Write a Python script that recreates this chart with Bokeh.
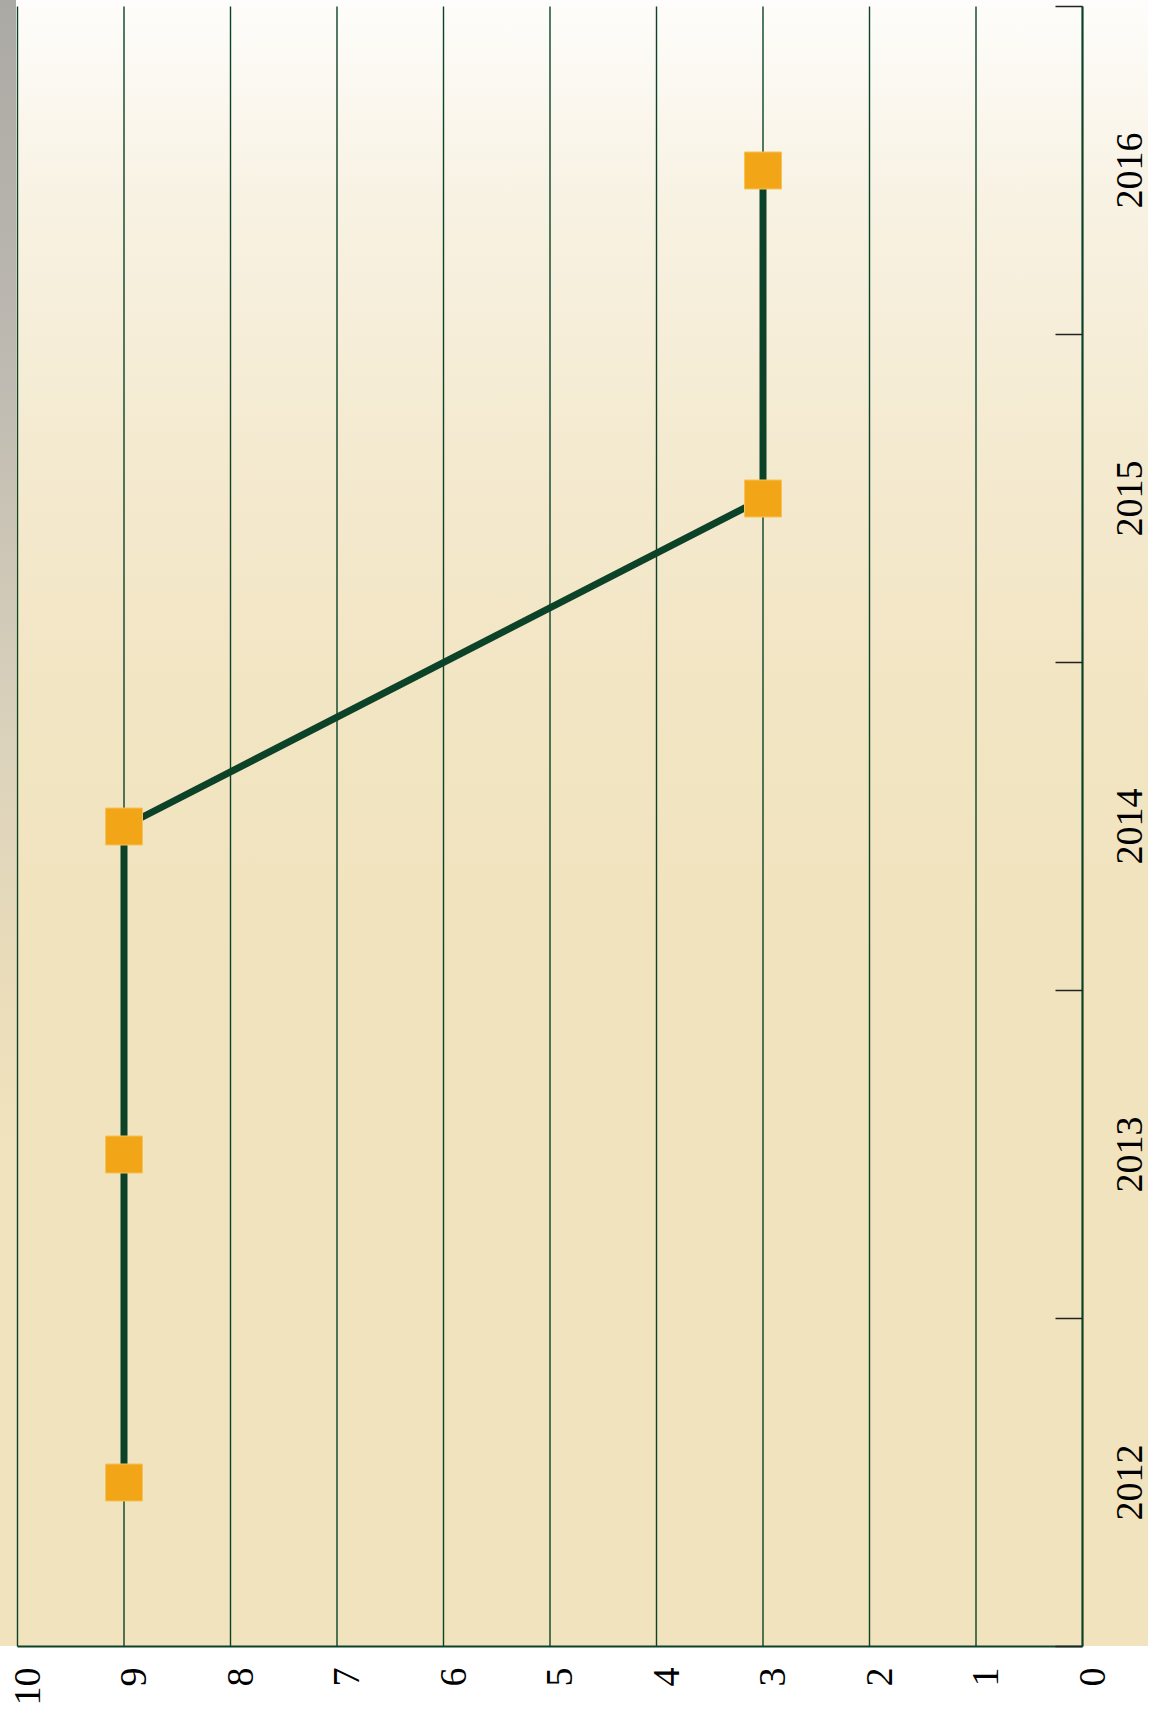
import math
from bokeh.plotting import figure
from bokeh.models import Range1d, LinearAxis, FixedTicker, LabelSet, ColumnDataSource
from bokeh.embed import file_html
from bokeh.resources import INLINE

# data
years = [2012, 2013, 2014, 2015, 2016]
year_labels = ["2012", "2013", "2014", "2015", "2016"]
values = [9, 9, 9, 3, 3]
value_ticks = [0, 1, 2, 3, 4, 5, 6, 7, 8, 9, 10]
value_labels = ["0", "1", "2", "3", "4", "5", "6", "7", "8", "9", "10"]
year_bounds = [2011.5, 2012.5, 2013.5, 2014.5, 2015.5, 2016.5]

GREEN = "#0B4228"
ORANGE = "#F2A516"
FONT = "Lato"
FSIZE = "38px"

# layout (pixels)
W, H = 1148, 1710
FL, FR, FT, FB = 17, 1082, 6, 1646           # plot-area edges
VMIN, VMAX = min(value_ticks), max(value_ticks)
YMIN, YMAX = year_bounds[0], year_bounds[-1]
sx = (FR - FL) / (VMAX - VMIN)
sy = (FB - FT) / (YMAX - YMIN)

p = figure(width=W, height=H, output_backend="svg", toolbar_location=None,
           x_range=Range1d(VMAX + FL / sx, VMIN - (W - FR) / sx),
           y_range=Range1d(YMIN - (H - FB) / sy, YMAX + FT / sy),
           x_axis_type=None, y_axis_type=None,
           min_border_left=0, min_border_right=0, min_border_top=0, min_border_bottom=0)

p.background_fill_alpha = 0
p.border_fill_alpha = 0
p.outline_line_color = None
p.styles = {
    "background": (
        f"linear-gradient(to bottom, #ABA9A4 0px, #BDB9B1 350px, #DCD3BC 750px, #EBDDBA 1000px, rgba(241,227,189,0) 1150px) 0px 0px / 16px {FB}px no-repeat, "
        f"linear-gradient(to bottom, #FEFDFB 0px, #F8F2E3 200px, #F4EAD0 450px, #F2E5C3 700px, #F1E3BD 950px, #F1E3BD {FB}px, #FFFFFF {FB}px, #FFFFFF 100%)"
    )
}

# vertical grid lines at each value, spanning the year range
p.segment(x0=value_ticks, y0=[YMIN] * len(value_ticks), x1=value_ticks, y1=[YMAX] * len(value_ticks),
          line_color=GREEN, line_width=1.4)

# value axis (bottom)
xaxis = LinearAxis(ticker=FixedTicker(ticks=value_ticks), fixed_location=YMIN, bounds=(VMIN, VMAX))
xaxis.axis_line_color = GREEN
xaxis.axis_line_width = 2
xaxis.major_tick_in = 0
xaxis.major_tick_out = 0
xaxis.minor_tick_in = 0
xaxis.minor_tick_out = 0
xaxis.major_label_text_font_size = "0px"
xaxis.major_label_text_alpha = 0
p.add_layout(xaxis, "below")

# year axis (right): axis line + boundary ticks
yaxis = LinearAxis(ticker=FixedTicker(ticks=[], minor_ticks=year_bounds), fixed_location=VMIN,
                   bounds=(YMIN, YMAX))
yaxis.axis_line_color = GREEN
yaxis.axis_line_width = 2
yaxis.major_tick_in = 0
yaxis.major_tick_out = 0
yaxis.minor_tick_in = 27
yaxis.minor_tick_out = 0
yaxis.minor_tick_line_color = "#222222"
yaxis.minor_tick_line_width = 1.5
p.add_layout(yaxis, "right")

# value tick labels
vsrc = ColumnDataSource(dict(x=value_ticks, y=[YMIN] * len(value_ticks), text=value_labels))
p.add_layout(LabelSet(x="x", y="y", text="text", source=vsrc, x_offset=-3, y_offset=-21,
                      angle=math.pi / 2, text_align="right", text_baseline="top",
                      text_font=FONT, text_font_size=FSIZE,
                      text_color="#000000"))

# year labels, centred on each year
ysrc = ColumnDataSource(dict(x=[VMIN] * len(years), y=years, text=year_labels))
p.add_layout(LabelSet(x="x", y="y", text="text", source=ysrc, x_offset=47,
                      angle=math.pi / 2, text_align="center", text_baseline="middle",
                      text_font=FONT, text_font_size=FSIZE,
                      text_color="#000000"))

p.line(values, years, line_color=GREEN, line_width=7)
p.scatter(values, years, marker="square", size=37, fill_color=ORANGE, line_color="#F5C35A", line_width=1)

open("out.html", "w").write(file_html(p, INLINE))
